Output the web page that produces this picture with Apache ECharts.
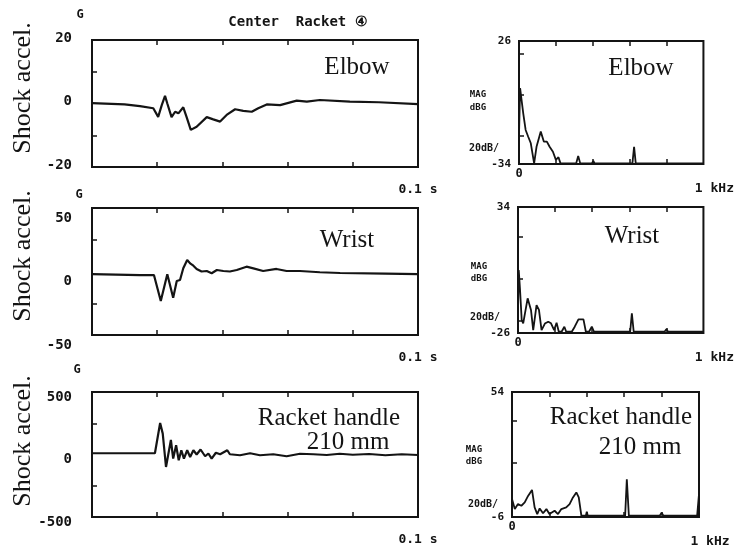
<!DOCTYPE html>
<html><head><meta charset="utf-8">
<script src="https://cdn.jsdelivr.net/npm/echarts@6/dist/echarts.min.js"></script>
<style>html,body{margin:0;padding:0;background:#fff}#c{width:737px;height:548px}</style>
</head><body><div id="c"></div>
<script>
// ---- Time-domain shock acceleration (time in s, acceleration in G) ----
const elbowTime  = [0, 0.010, 0.0147, 0.0188, 0.0203, 0.0214, 0.0224, 0.0231, 0.0244, 0.0255, 0.0265, 0.0280, 0.0290, 0.0303, 0.0321, 0.0352, 0.0372, 0.0393, 0.0413, 0.0439, 0.0464, 0.0490, 0.0510, 0.0536, 0.0577, 0.0628, 0.0659, 0.0699, 0.0791, 0.0880, 0.1000];
const elbowAccel = [0.1, -0.3, -0.8, -1.5, -4.2, -0.5, 2.4, 0.0, -4.3, -2.6, -3.1, -1.2, -4.2, -8.3, -7.3, -4.3, -5.0, -5.7, -3.6, -1.8, -2.3, -2.6, -1.5, -0.3, -0.5, 0.9, 0.6, 1.1, 0.6, 0.4, -0.2];

const wristTime  = [0, 0.0147, 0.0190, 0.0211, 0.0231, 0.0249, 0.0260, 0.0270, 0.0280, 0.0292, 0.0301, 0.0311, 0.0321, 0.0336, 0.0352, 0.0367, 0.0383, 0.0403, 0.0423, 0.0444, 0.0474, 0.0495, 0.0525, 0.0566, 0.0597, 0.0638, 0.0699, 0.0761, 0.0900, 0.1000];
const wristAccel = [-2.0, -2.8, -2.8, -23.2, -2.2, -20.6, -7.5, -6.7, 2.5, 9.1, 6.4, 4.6, 2.0, 0.0, 0.4, -1.4, 1.2, 0.4, 0.0, 1.2, 3.8, 2.5, 0.4, 2.0, 0.4, 0.4, -0.6, -1.2, -1.6, -2.0];

const handleTime  = [0, 0.0147, 0.0193, 0.0209, 0.0217, 0.0227, 0.0242, 0.0249, 0.0258, 0.0266, 0.0274, 0.0282, 0.0292, 0.0301, 0.0311, 0.0321, 0.0333, 0.0347, 0.0357, 0.0367, 0.0380, 0.0393, 0.0415, 0.0423, 0.0454, 0.0485, 0.0515, 0.0556, 0.0597, 0.0638, 0.0679, 0.0720, 0.0760, 0.0800, 0.0850, 0.0900, 0.0950, 0.1000];
const handleAccel = [10, 10, 10, 252, 167, -100, 116, -33, 74, -46, 34, -33, 34, -20, 34, 0, 40, -14, 8, -33, 14, 2, 34, 2, -6, 10, -6, 2, -14, 6, 2, -4, 6, -2, 4, -6, 2, -4];

// ---- Spectra (frequency in kHz, magnitude in dBG) ----
const elbowFreq = [0, 0.006, 0.014, 0.023, 0.036, 0.050, 0.064, 0.082, 0.095, 0.118, 0.135, 0.151, 0.166, 0.184, 0.200, 0.214, 0.225, 0.310, 0.321, 0.332, 0.395, 0.403, 0.410, 0.615, 0.624, 0.633, 0.790, 0.800, 0.810, 1.000];
const elbowMag  = [-20, 3, -2.8, -9.3, -17.4, -20.7, -23.9, -33.7, -25.6, -18.2, -23.1, -23.1, -25.6, -28, -32, -30.7, -33.7, -33.7, -30.1, -33.7, -33.7, -32.5, -33.7, -33.7, -25.6, -33.7, -33.7, -32.8, -33.7, -33.7];

const wristFreq = [0, 0.004, 0.011, 0.020, 0.028, 0.052, 0.070, 0.082, 0.100, 0.113, 0.127, 0.145, 0.163, 0.178, 0.195, 0.208, 0.220, 0.235, 0.250, 0.260, 0.290, 0.306, 0.326, 0.353, 0.366, 0.383, 0.398, 0.410, 0.605, 0.614, 0.624, 0.790, 0.800, 0.810, 1.000];
const wristMag  = [-15, 4, -5.5, -19.8, -21.4, -9.5, -15, -24.6, -12.7, -15, -24.6, -21.5, -20.6, -21.4, -24.6, -21.1, -25.4, -25.4, -23, -25.4, -25.4, -23, -19.5, -19.5, -25.4, -25.4, -23, -25.4, -25.4, -16.6, -25.4, -25.4, -24.2, -25.4, -25.4];

const handleFreq = [0, 0.015, 0.032, 0.050, 0.068, 0.086, 0.107, 0.121, 0.135, 0.148, 0.166, 0.184, 0.200, 0.228, 0.246, 0.264, 0.290, 0.308, 0.326, 0.344, 0.357, 0.371, 0.395, 0.400, 0.405, 0.605, 0.614, 0.625, 0.790, 0.800, 0.810, 0.990, 1.000];
const handleMag  = [2.6, -2.2, 0.2, -0.6, 1.0, 4.1, 7.0, -1.4, -4.6, -1.9, -4.2, -2.2, -4.6, -3.0, -4.6, -2.2, -1.4, 0.2, 3.4, 5.8, 3.4, -5.4, -5.4, -3.5, -5.4, -5.4, 12.1, -5.4, -5.4, -4.0, -5.4, -5.4, 5.0];

// ---- Axis ranges / tick labels ----
const timeRanges = [[-20, 20], [-50, 50], [-500, 500]];
const timeTicks  = [[-10, 10], [-25, 25], [-250, 250]];
const specRanges = [[-34, 26], [-26, 34], [-6, 54]];
const specTicks  = [[-20, 0, 20], [-20, 0, 20], [20, 40]];
const panelNames = ['Elbow', 'Wrist', 'Racket handle'];

const zip = (a, b) => a.map((v, i) => [v, b[i]]);
const timeSeries = [zip(elbowTime, elbowAccel), zip(wristTime, wristAccel), zip(handleTime, handleAccel)];
const specSeries = [zip(elbowFreq, elbowMag), zip(wristFreq, wristMag), zip(handleFreq, handleMag)];

const INK = '#141414';
const MONO = '"DejaVu Sans Mono", monospace';
const SERIF = '"Liberation Serif", "Times New Roman", serif';

const grids = [
  {left: 92, top: 40, width: 326, height: 127},
  {left: 92, top: 208, width: 326, height: 127},
  {left: 92, top: 392, width: 326, height: 125},
  {left: 519, top: 41, width: 187, height: 123},
  {left: 518, top: 207, width: 186, height: 126},
  {left: 512, top: 392, width: 187, height: 126}
].map(g => Object.assign({show: true, borderColor: INK, borderWidth: 2, backgroundColor: 'transparent'}, g));

const tickStyle = {inside: true, length: 5, lineStyle: {color: INK, width: 1.5}};
const xAxes = [], yAxes = [], series = [];
// vertical offset (px) of the left tick labels in each time panel
const yLabelShift = [-2, 10, 5];

for (let i = 0; i < 3; i++) {
  ['bottom', 'top'].forEach(pos => {
    xAxes.push({
      type: 'value', gridIndex: i, position: pos, min: 0, max: 0.1,
      axisLine: {show: false, onZero: false}, splitLine: {show: false},
      axisTick: Object.assign({customValues: [0.02, 0.04, 0.06, 0.08]}, tickStyle),
      axisLabel: pos === 'bottom'
        ? {customValues: [0.1], formatter: () => '0.1 s', margin: 16, color: INK,
           fontFamily: MONO, fontWeight: 'bold', fontSize: 13}
        : {show: false}
    });
  });
  const [mn, mx] = timeRanges[i];
  const sh = yLabelShift[i];
  yAxes.push({
    type: 'value', gridIndex: i, min: mn, max: mx,
    axisLine: {show: false, onZero: false}, splitLine: {show: false},
    axisTick: Object.assign({customValues: timeTicks[i]}, tickStyle),
    axisLabel: {customValues: [mn, 0, mx], margin: 20, color: INK,
      formatter: v => '{a|' + v + '}',
      rich: {a: {fontFamily: MONO, fontWeight: 'bold', fontSize: 14, color: INK,
        padding: [Math.max(0, sh * 2), 0, Math.max(0, -sh * 2), 0]}}}
  });
  series.push({type: 'line', xAxisIndex: 2 * i, yAxisIndex: i, data: timeSeries[i],
    showSymbol: false, lineStyle: {color: INK, width: 2.2}, silent: true});
}
for (let i = 0; i < 3; i++) {
  const g = 3 + i;
  ['bottom', 'top'].forEach(pos => {
    xAxes.push({
      type: 'value', gridIndex: g, position: pos, min: 0, max: 1,
      axisLine: {show: false, onZero: false}, splitLine: {show: false},
      axisTick: Object.assign({customValues: [0.2, 0.4, 0.6, 0.8]}, tickStyle),
      axisLabel: pos === 'bottom'
        ? {customValues: [0, 1], formatter: v => v === 0 ? '{z|0}' : '{k|1 kHz}', margin: 4, color: INK,
           fontFamily: MONO, fontWeight: 'bold', fontSize: 12,
           rich: {
             z: {fontFamily: MONO, fontWeight: 'bold', fontSize: 12, color: INK},
             k: {fontFamily: MONO, fontWeight: 'bold', fontSize: 13, color: INK, padding: [14, 0, 0, 22]}
           }}
        : {show: false}
    });
  });
  const [mn, mx] = specRanges[i];
  yAxes.push({
    type: 'value', gridIndex: g, min: mn, max: mx,
    axisLine: {show: false, onZero: false}, splitLine: {show: false},
    axisTick: Object.assign({customValues: specTicks[i]}, tickStyle),
    axisLabel: {customValues: [mn, mx], margin: 8, color: INK,
      fontFamily: MONO, fontWeight: 'bold', fontSize: 11}
  });
  series.push({type: 'line', xAxisIndex: 2 * g, yAxisIndex: g, data: specSeries[i],
    showSymbol: false, lineStyle: {color: INK, width: 1.8}, silent: true});
}

const txt = (text, x, y, font, extra) => Object.assign({
  type: 'text', x, y, silent: true,
  style: {text, font, fill: INK, align: 'center', verticalAlign: 'middle'}
}, extra || {});

const graphics = [
  txt('Center  Racket \u2463', 298, 22, 'bold 14px ' + MONO),
  txt('G', 80, 15, 'bold 12px ' + MONO),
  txt('G', 79, 195, 'bold 12px ' + MONO),
  txt('G', 77, 370, 'bold 12px ' + MONO),
  txt('Shock accel.', 23, 88, '26px ' + SERIF, {rotation: Math.PI / 2}),
  txt('Shock accel.', 23, 256, '26px ' + SERIF, {rotation: Math.PI / 2}),
  txt('Shock accel.', 23, 441, '26px ' + SERIF, {rotation: Math.PI / 2}),
  txt(panelNames[0], 357, 67, '25px ' + SERIF),
  txt(panelNames[1], 347, 240, '25px ' + SERIF),
  txt(panelNames[2], 329, 418, '25px ' + SERIF),
  txt('210 mm', 348, 442, '25px ' + SERIF),
  txt(panelNames[0], 641, 68, '25px ' + SERIF),
  txt(panelNames[1], 632, 236, '25px ' + SERIF),
  txt(panelNames[2], 621, 417, '25px ' + SERIF),
  txt('210 mm', 640, 447, '25px ' + SERIF),
  txt('MAG', 478, 95, 'bold 9px ' + MONO),
  txt('dBG', 478, 108, 'bold 9px ' + MONO),
  txt('20dB/', 484, 148, 'bold 10px ' + MONO),
  txt('MAG', 479, 267, 'bold 9px ' + MONO),
  txt('dBG', 479, 279, 'bold 9px ' + MONO),
  txt('20dB/', 485, 317, 'bold 10px ' + MONO),
  txt('MAG', 474, 450, 'bold 9px ' + MONO),
  txt('dBG', 474, 462, 'bold 9px ' + MONO),
  txt('20dB/', 483, 504, 'bold 10px ' + MONO)
];

const chart = echarts.init(document.getElementById('c'), null, {renderer: 'canvas'});
chart.setOption({
  animation: false,
  backgroundColor: '#ffffff',
  grid: grids,
  xAxis: xAxes,
  yAxis: yAxes,
  series: series,
  graphic: graphics
});
</script>
</body></html>
